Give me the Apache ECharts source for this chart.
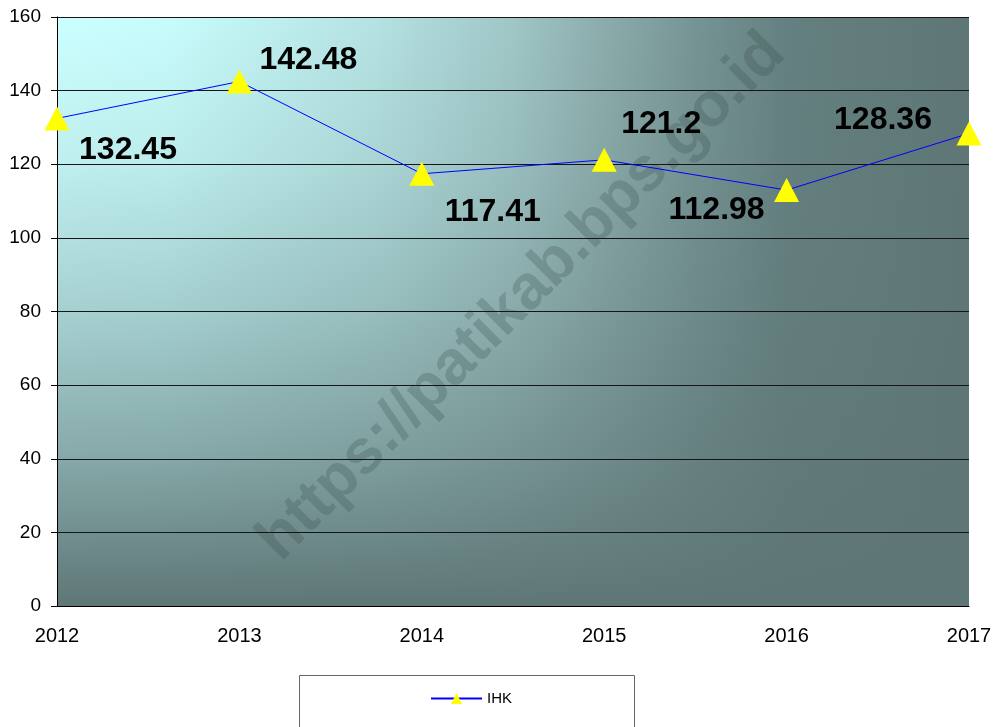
<!DOCTYPE html>
<html>
<head>
<meta charset="utf-8">
<title>IHK</title>
<script src="https://cdn.jsdelivr.net/npm/echarts@6/dist/echarts.min.js"></script>
<style>
	html, body { margin: 0; padding: 0; background: #fff; }
	#chart { width: 1002px; height: 727px; }
</style>
</head>
<body>
<div id="chart"></div>
<script>
"use strict";

var years = ['2012', '2013', '2014', '2015', '2016', '2017'];
var ihk = [132.45, 142.48, 117.41, 121.2, 112.98, 128.36];
// where each value label sits, relative to its point
var labelOffsets = [[71, 32], [69, -21], [71, 38], [57, -36], [-70, 20], [-86, -13]];

var myChart = echarts.init(document.getElementById('chart'));

var plot = { left: 57, top: 17, width: 912, height: 589 };
var darkColor = '#5e7676';

var seriesData = ihk.map(function(v, i) {
	return {
		value: v,
		label: { offset: labelOffsets[i] }
	};
});

var option = {
	backgroundColor: '#ffffff',
	animation: false,
	textStyle: { fontFamily: 'Arial, "Liberation Sans", sans-serif' },
	grid: {
		left: plot.left,
		top: plot.top,
		width: plot.width,
		height: plot.height
	},
	graphic: [{
		type: 'rect',
		z: 1,
		silent: true,
		shape: { x: plot.left, y: plot.top, width: plot.width, height: plot.height },
		style: {
			fill: new echarts.graphic.LinearGradient(0, 0, 1, 0, [
				{ offset: 0, color: '#ccffff' },
				{ offset: 0.12, color: '#c8fcfc' },
				{ offset: 0.35, color: '#b5e2e2' },
				{ offset: 0.5, color: '#a0c6c6' },
				{ offset: 0.6, color: '#8cacac' },
				{ offset: 0.7, color: '#769494' },
				{ offset: 0.8, color: '#658080' },
				{ offset: 1, color: darkColor }
			])
		}
	}, {
		type: 'rect',
		z: 2,
		silent: true,
		shape: { x: plot.left, y: plot.top, width: plot.width, height: plot.height },
		style: {
			fill: new echarts.graphic.LinearGradient(0, 0, 0, 1, [
				{ offset: 0, color: 'rgba(94,118,118,0)' },
				{ offset: 0.25, color: 'rgba(94,118,118,0.12)' },
				{ offset: 0.5, color: 'rgba(94,118,118,0.34)' },
				{ offset: 0.75, color: 'rgba(94,118,118,0.63)' },
				{ offset: 1, color: 'rgba(94,118,118,1)' }
			])
		}
	}, {
		type: 'text',
		z: 3,
		silent: true,
		x: 522,
		y: 297,
		rotation: Math.PI / 4,
		style: {
			text: 'https://patikab.bps.go.id',
			fontSize: 62,
			fontWeight: 'bold',
			fontFamily: 'Arial, "Liberation Sans", sans-serif',
			fill: 'rgba(50,70,70,0.25)',
			textAlign: 'center',
			textVerticalAlign: 'middle'
		}
	}, {
		// legend frame
		type: 'rect',
		z: 1,
		silent: true,
		shape: { x: 299.5, y: 675.5, width: 335, height: 70 },
		style: { fill: '#ffffff', stroke: '#666666', lineWidth: 1 }
	}],
	legend: {
		left: 425,
		top: 686,
		z: 6,
		itemWidth: 51,
		itemHeight: 14,
		itemGap: 10,
		textStyle: { fontSize: 15, color: '#000' },
		data: ['IHK']
	},
	xAxis: {
		type: 'category',
		data: years,
		boundaryGap: false,
		z: 5,
		axisLine: { lineStyle: { color: '#000', width: 1 } },
		axisTick: { show: false },
		axisLabel: { fontSize: 20, color: '#000', margin: 20 },
		splitLine: { show: false }
	},
	yAxis: {
		type: 'value',
		min: 0,
		max: 160,
		interval: 20,
		z: 5,
		axisLine: { show: true, lineStyle: { color: '#000', width: 1 } },
		axisTick: { show: true, length: 6, lineStyle: { color: '#000' } },
		axisLabel: { fontSize: 19, color: '#000', margin: 16 },
		splitLine: { show: true, lineStyle: { color: '#151515', width: 1 } }
	},
	series: [{
		name: 'IHK',
		type: 'line',
		z: 6,
		data: seriesData,
		symbol: 'triangle',
		symbolSize: [25, 24],
		itemStyle: { color: '#ffff00' },
		lineStyle: { color: '#0000ff', width: 1 },
		label: {
			show: true,
			position: 'inside',
			align: 'center',
			verticalAlign: 'middle',
			fontSize: 32,
			fontWeight: 'bold',
			color: '#000'
		}
	}]
};

myChart.setOption(option);
</script>
</body>
</html>
